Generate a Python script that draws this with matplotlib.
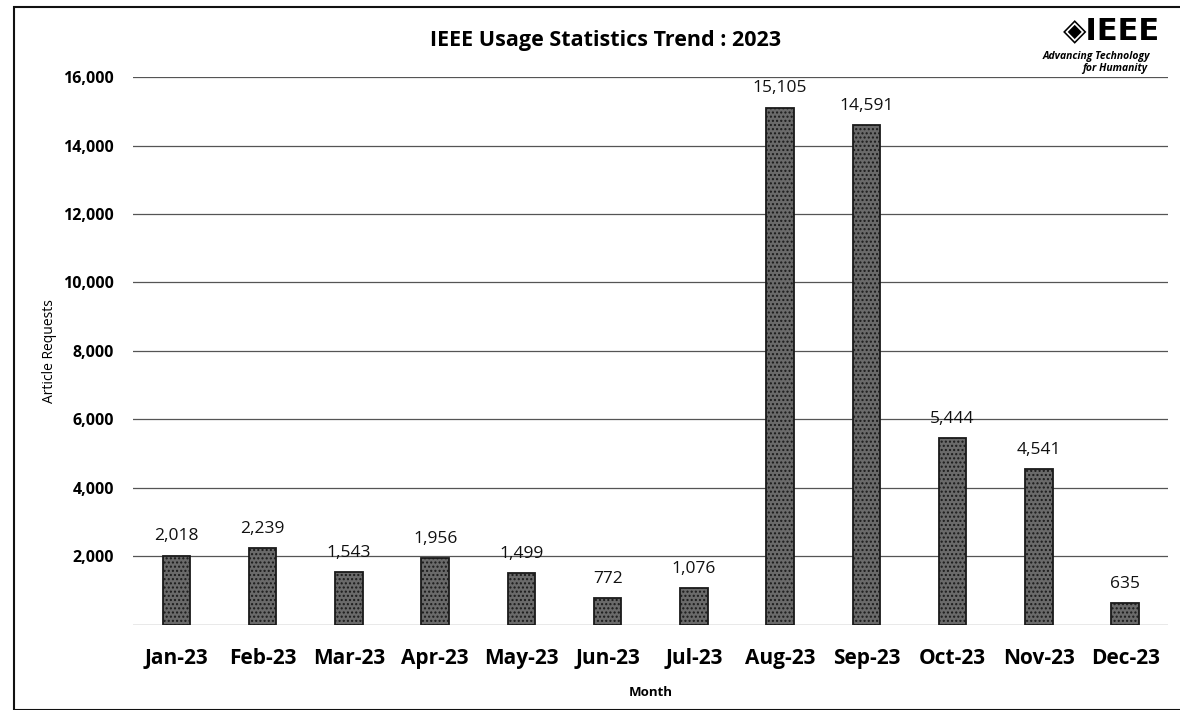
import matplotlib

matplotlib.use("Agg")
import matplotlib.pyplot as plt  # noqa: E402
from matplotlib.patches import Rectangle  # noqa: E402

months = ["Jan-23", "Feb-23", "Mar-23", "Apr-23", "May-23", "Jun-23",
          "Jul-23", "Aug-23", "Sep-23", "Oct-23", "Nov-23", "Dec-23"]
requests = [2018, 2239, 1543, 1956, 1499, 772, 1076, 15105, 14591, 5444, 4541, 635]
y_ticks = [0, 2000, 4000, 6000, 8000, 10000, 12000, 14000, 16000]

plt.rcParams["font.family"] = ["Open Sans", "DejaVu Sans"]

fig = plt.figure(figsize=(11.8, 7.1), dpi=100)
ax = fig.add_axes([0.113, 0.120, 0.877, 0.7715])

x = range(len(months))
ax.bar(x, requests, width=0.32, color="#6a6a6a", edgecolor="#1a1a1a", lw=1.3,
       hatch="....", zorder=3)
for i, v in enumerate(requests):
    ax.text(i, v + 330, f"{v:,}", ha="center", va="bottom", fontsize=12.5, color="#111")

ax.set_ylim(0, 16000)
ax.set_xlim(-0.5, len(months) - 0.5)
ax.set_yticks(y_ticks)
ax.set_yticklabels(["" if t == 0 else f"{t:,}" for t in y_ticks],
                   fontsize=11.5, fontweight="bold")
ax.set_xticks(list(x))
ax.set_xticklabels(months, fontsize=15, fontweight="bold")
ax.tick_params(axis="x", length=0, pad=17)
ax.tick_params(axis="y", length=0, pad=14)
ax.grid(axis="y", color="#555", lw=0.9, zorder=0)
for s in ax.spines.values():
    s.set_visible(False)

ax.set_xlabel("Month", fontsize=9.5, fontweight="bold", labelpad=12)
ax.set_ylabel("Article Requests", fontsize=10, labelpad=4)
fig.text(0.513, 0.943, "IEEE Usage Statistics Trend : 2023", ha="center", va="center",
         fontsize=15.5, fontweight="bold")

# logo text
fig.text(0.983, 0.957, "◈IEEE", ha="right", va="center", fontsize=22, fontweight="bold",
         family=["DejaVu Sans"])
fig.text(0.975, 0.920, "Advancing Technology", ha="right", va="center", fontsize=7.5,
         style="italic", fontweight="bold")
fig.text(0.972, 0.904, "for Humanity", ha="right", va="center", fontsize=7.5,
         style="italic", fontweight="bold")

# frame around chart
fig.patches.append(Rectangle((0.012, 0.0), 1.0, 0.99, transform=fig.transFigure,
                             fill=False, edgecolor="#111", lw=1.5))

fig.savefig("out.png", dpi=100)
